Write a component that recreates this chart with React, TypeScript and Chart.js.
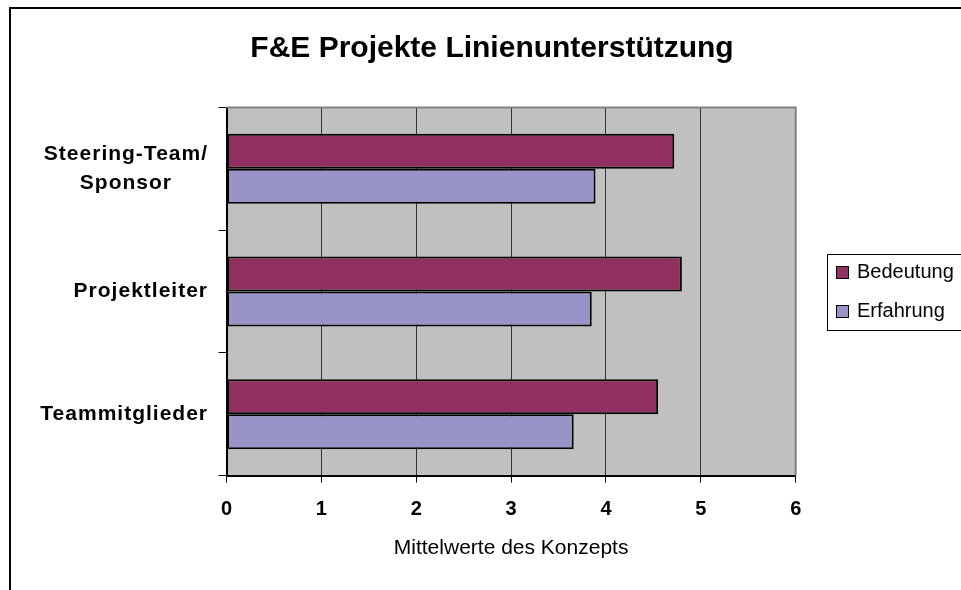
import React, { useEffect, useRef } from "react";
import { Chart, registerables } from "chart.js";

Chart.register(...registerables);

const FONT = '"Liberation Sans", Arial, Helvetica, sans-serif';

const chartTitle = "F&E Projekte Linienunterstützung";
const axisTitle = "Mittelwerte des Konzepts";
const categories: string[][] = [["Steering-Team/", "Sponsor"], ["Projektleiter"], ["Teammitglieder"]];
const seriesNames = ["Bedeutung", "Erfahrung"];
const bedeutung = [4.72, 4.8, 4.55];
const erfahrung = [3.89, 3.85, 3.66];
const xTicks = [0, 1, 2, 3, 4, 5, 6];
const seriesColors = ["#923062", "#9894C8"];

const plotFrame = {
  id: "plotFrame",
  beforeDraw(chart: any) {
    const { ctx, chartArea: a } = chart;
    ctx.save();
    ctx.fillStyle = "#C0C0C0";
    ctx.fillRect(a.left, a.top, a.right - a.left, a.bottom - a.top);
    ctx.restore();
  },
  afterDatasetsDraw(chart: any) {
    const { ctx, chartArea: a } = chart;
    ctx.save();
    ctx.strokeStyle = "#808080";
    ctx.lineWidth = 2;
    ctx.beginPath();
    ctx.moveTo(a.left, a.top);
    ctx.lineTo(a.right, a.top);
    ctx.lineTo(a.right, a.bottom);
    ctx.stroke();
    ctx.restore();
  },
};

const categoryLabels = {
  id: "categoryLabels",
  afterDraw(chart: any) {
    const { ctx, chartArea } = chart;
    const yScale = chart.scales.y;
    ctx.save();
    ctx.font = `bold 21px ${FONT}`;
    (ctx as any).letterSpacing = "1px";
    ctx.fillStyle = "#000";
    ctx.textBaseline = "middle";
    ctx.textAlign = "center";
    const xRight = chartArea.left - 18.5;
    const lineGap = 29.5;
    categories.forEach((lines, i) => {
      const cy = yScale.getPixelForValue(i);
      const maxW = Math.max(...lines.map((l) => ctx.measureText(l).width));
      const cx = xRight - maxW / 2;
      lines.forEach((l, j) => {
        ctx.fillText(l, cx, cy + (j - (lines.length - 1) / 2) * lineGap);
      });
    });
    ctx.restore();
  },
};

const boxLegend = {
  id: "boxLegend",
  afterDraw(chart: any) {
    const { ctx, chartArea: a } = chart;
    const left = a.right + 31.3;
    const mid = (a.top + a.bottom) / 2;
    const h = 76;
    const top = mid - h / 2;
    ctx.save();
    ctx.strokeStyle = "#000";
    ctx.lineWidth = 1;
    ctx.strokeRect(Math.round(left) + 0.5, Math.round(top) + 0.5, 300, h);
    ctx.font = `20px ${FONT}`;
    ctx.textBaseline = "middle";
    ctx.textAlign = "left";
    const rowGap = 39;
    chart.data.datasets.forEach((ds: any, i: number) => {
      const cy = mid + (i - 0.5) * rowGap;
      const mx = Math.round(left + 9);
      const my = Math.round(cy - 6);
      ctx.fillStyle = ds.backgroundColor;
      ctx.fillRect(mx, my, 12, 12);
      ctx.strokeRect(mx + 0.5, my + 0.5, 12, 12);
      ctx.fillStyle = "#000";
      ctx.fillText(ds.label, left + 30, cy);
    });
    ctx.restore();
  },
};

export default function App() {
  const ref = useRef<HTMLCanvasElement | null>(null);

  useEffect(() => {
    if (!ref.current) return;
    const chart = new Chart(ref.current, {
      type: "bar",
      data: {
        labels: categories,
        datasets: [
          {
            label: seriesNames[0],
            data: bedeutung,
            backgroundColor: seriesColors[0],
            borderColor: "#000",
            borderWidth: 2,
            borderSkipped: false,
            categoryPercentage: 0.57,
            barPercentage: 1,
          },
          {
            label: seriesNames[1],
            data: erfahrung,
            backgroundColor: seriesColors[1],
            borderColor: "#000",
            borderWidth: 2,
            borderSkipped: false,
            categoryPercentage: 0.57,
            barPercentage: 1,
          },
        ],
      },
      options: {
        indexAxis: "y",
        responsive: false,
        animation: false,
        devicePixelRatio: 1,
        layout: { padding: { left: 177.3, right: 165.3, top: 0, bottom: 0 } },
        plugins: {
          legend: { display: false },
          tooltip: { enabled: false },
          title: {
            display: true,
            text: chartTitle,
            color: "#000",
            font: { family: FONT, size: 30, weight: "bold", lineHeight: 1.2 },
            padding: { top: 22, bottom: 40.5 },
          },
        },
        scales: {
          x: {
            type: "linear",
            min: 0,
            max: 6,
            afterBuildTicks: (scale: any) => {
              scale.ticks = xTicks.map((v) => ({ value: v }));
            },
            afterFit: (scale: any) => {
              scale.height = 114.5;
            },
            ticks: {
              color: "#000",
              font: { family: FONT, size: 20, weight: "bold" },
              padding: 15,
              maxRotation: 0,
            },
            grid: {
              color: "#333333",
              lineWidth: 1,
              drawTicks: true,
              tickLength: 7,
              tickColor: "#000",
            },
            border: { display: true, color: "#000", width: 2 },
            title: {
              display: true,
              text: axisTitle,
              color: "#000",
              font: { family: FONT, size: 21, lineHeight: 1.2 },
              padding: { top: 0, bottom: 29 },
            },
          },
          y: {
            type: "category",
            afterFit: (scale: any) => {
              scale.width = 38.2;
            },
            ticks: { display: false },
            grid: {
              offset: true,
              drawOnChartArea: false,
              drawTicks: true,
              tickLength: 8,
              color: "#000",
              tickColor: "#000",
            },
            border: { display: true, color: "#000", width: 2 },
          },
        },
      },
      plugins: [plotFrame, categoryLabels, boxLegend],
    } as any);
    return () => chart.destroy();
  }, []);

  return (
    <div
      style={{
        position: "fixed",
        left: 9,
        top: 7,
        width: 950,
        height: 581,
        borderLeft: "2px solid #000",
        borderTop: "2px solid #000",
        background: "#fff",
        overflow: "hidden",
      }}
    >
      <canvas ref={ref} width={950} height={581} style={{ display: "block" }} />
    </div>
  );
}
